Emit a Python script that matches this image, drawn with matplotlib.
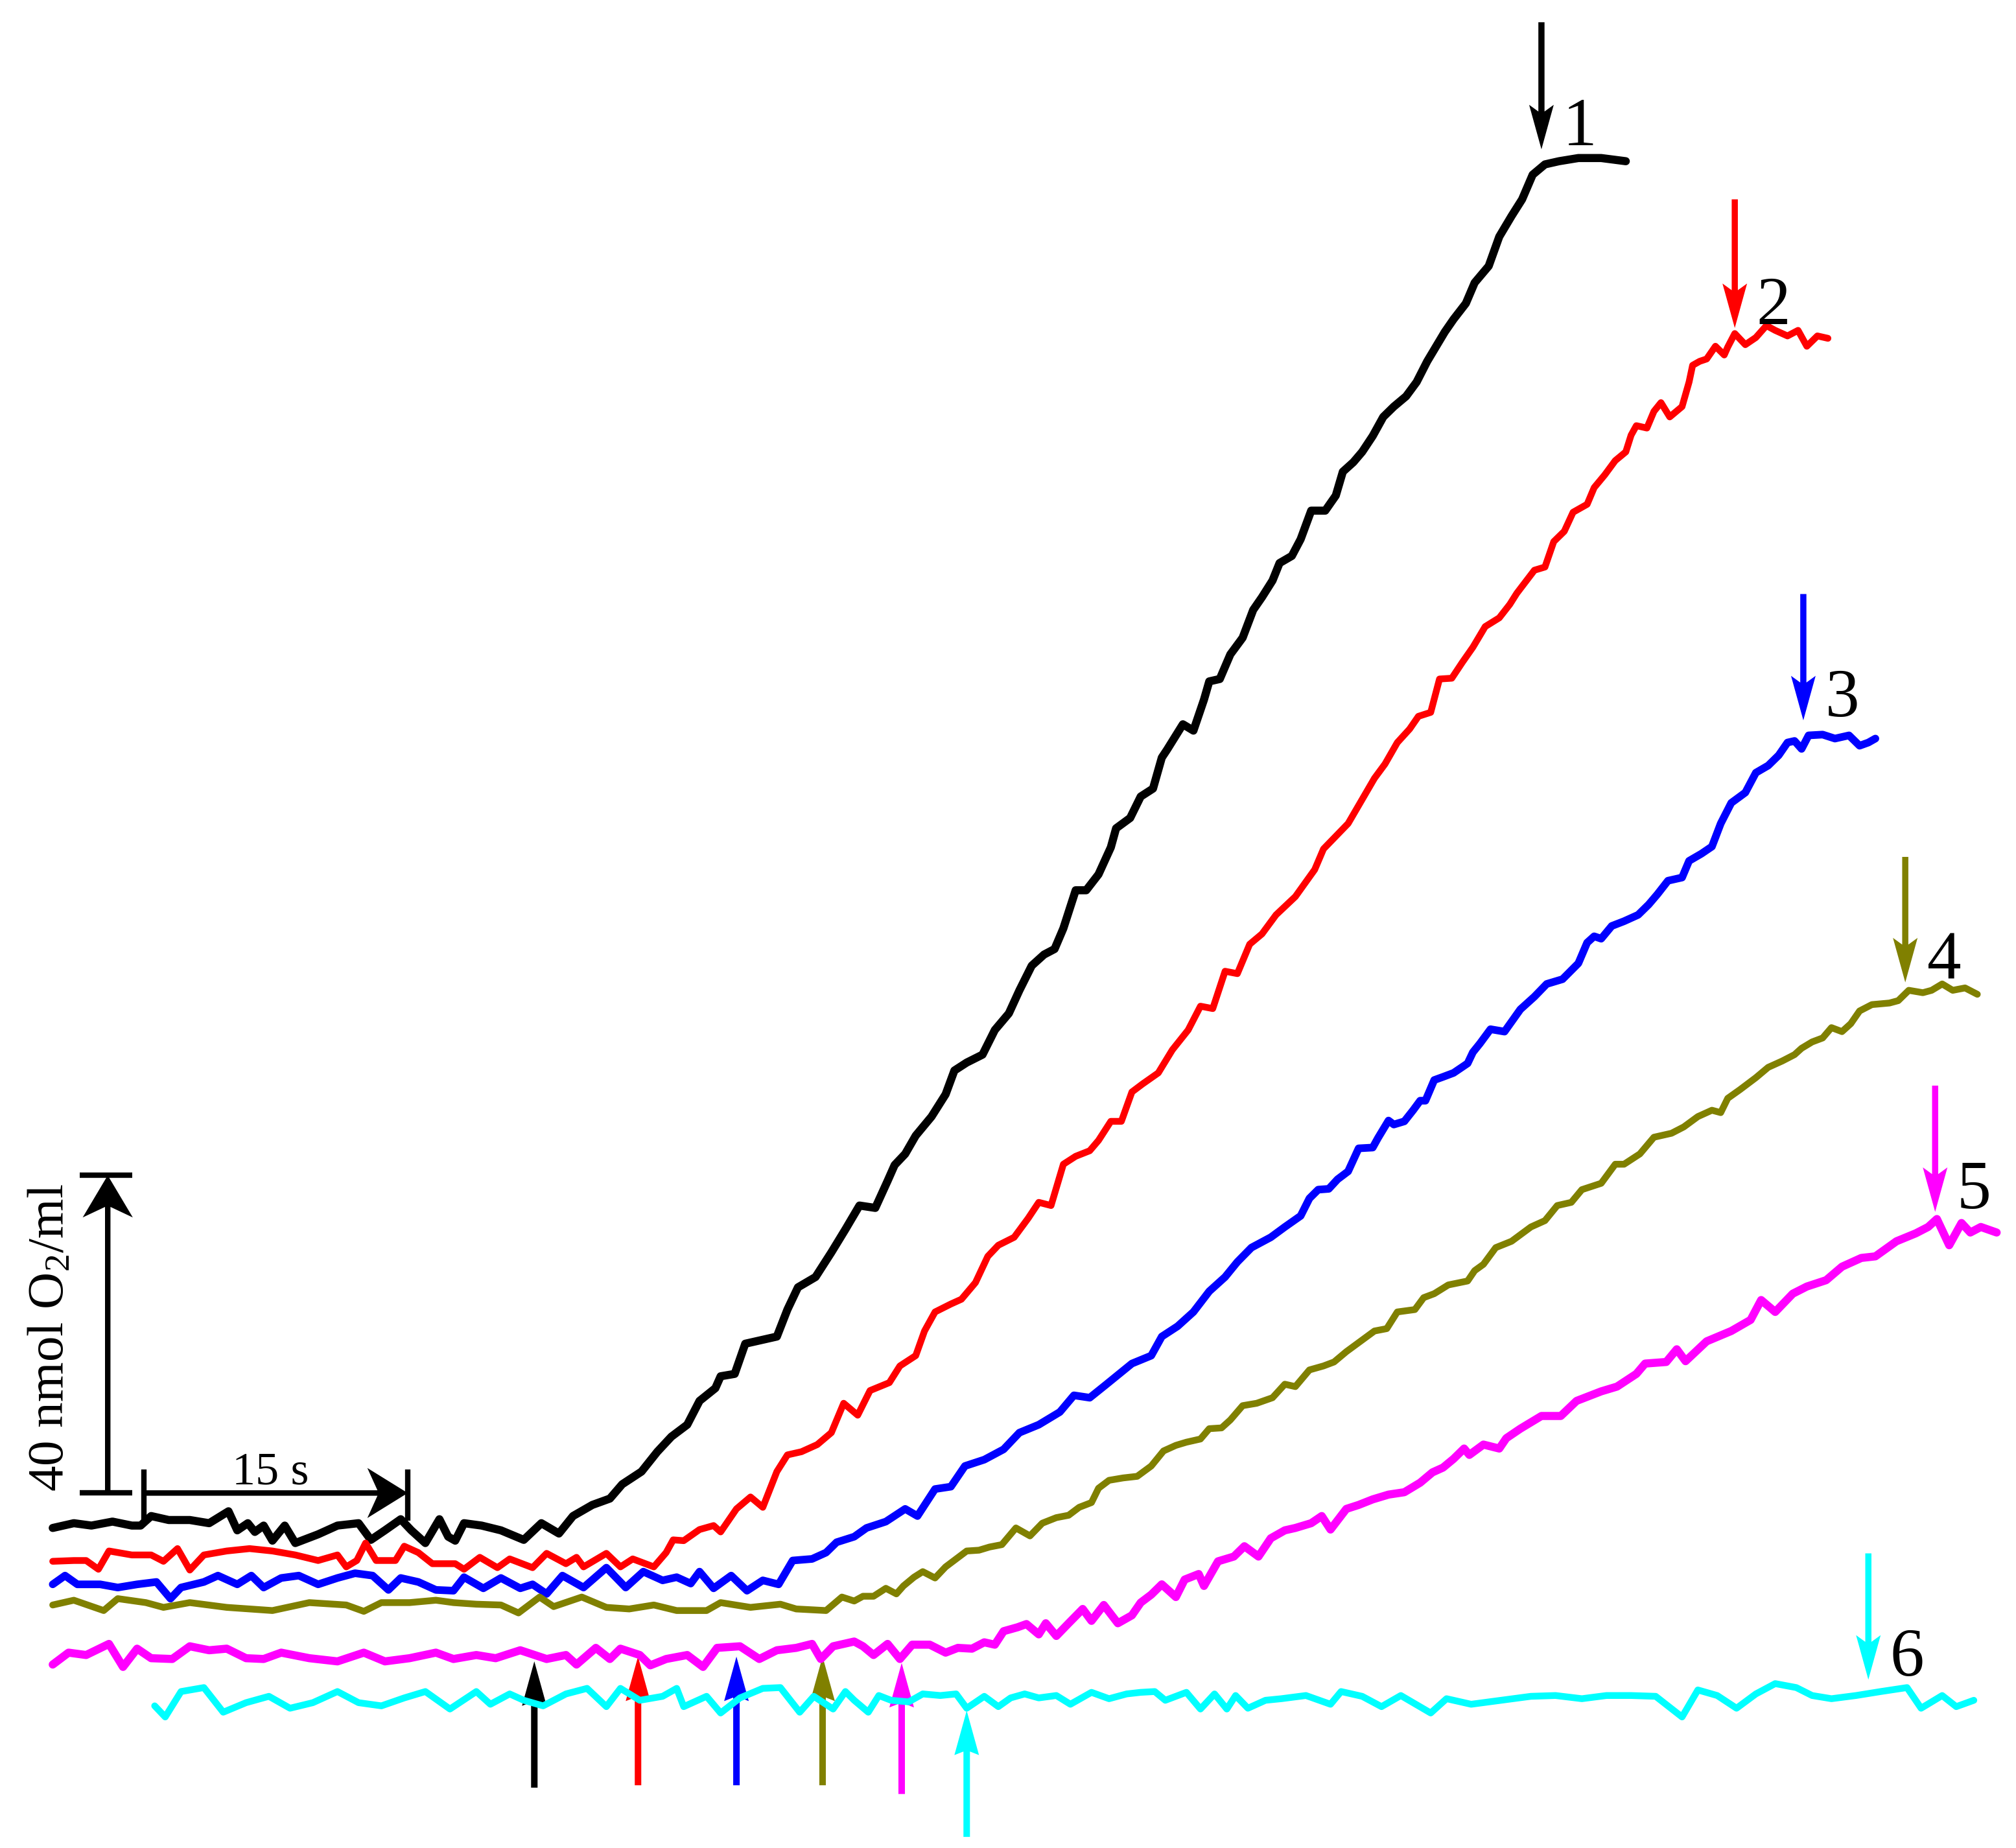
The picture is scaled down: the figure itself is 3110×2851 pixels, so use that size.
import numpy as np
import matplotlib.pyplot as plt

plt.rcParams['font.family'] = ['Liberation Serif', 'DejaVu Serif']
plt.rcParams['mathtext.default'] = 'regular'

trace_1 = [
    (0.0, 23.0), (1.2, 23.6), (2.2, 23.3), (3.4, 23.8), (4.5, 23.3), (5.0, 23.3), (5.6, 24.5), (6.6, 24.0),
    (7.8, 24.0), (8.9, 23.6), (10.0, 25.1), (10.5, 22.7), (11.1, 23.6), (11.5, 22.5), (12.0, 23.3), (12.5, 21.4),
    (13.2, 23.3), (13.8, 21.1), (15.1, 22.2), (16.2, 23.3), (17.4, 23.6), (18.1, 21.5), (18.9, 22.7), (19.8, 24.1),
    (20.4, 22.7), (21.2, 21.1), (22.0, 24.1), (22.5, 21.9), (22.9, 21.4), (23.4, 23.6), (24.4, 23.3), (25.5, 22.7),
    (26.8, 21.5), (27.8, 23.6), (28.8, 22.3), (29.6, 24.5), (30.7, 25.9), (31.7, 26.7), (32.4, 28.5), (33.5, 30.1),
    (34.4, 32.6), (35.2, 34.5), (36.1, 36.0), (36.8, 39.0), (37.7, 40.6), (38.0, 42.1), (38.8, 42.4), (39.4, 46.2),
    (41.2, 47.1), (41.8, 50.5), (42.4, 53.3), (43.4, 54.6), (44.3, 57.7), (45.1, 60.6), (45.9, 63.6), (46.8, 63.3),
    (47.5, 66.7), (47.9, 68.7), (48.5, 70.1), (49.1, 72.4), (50.0, 74.8), (50.8, 77.6), (51.3, 80.6), (52.0, 81.6),
    (52.9, 82.6), (53.6, 85.7), (54.4, 87.8), (55.0, 90.7), (55.7, 93.8), (56.4, 95.2), (57.0, 95.9), (57.5, 98.5),
    (58.2, 103.3), (58.8, 103.3), (59.5, 105.3), (60.2, 108.7), (60.5, 111.1), (61.3, 112.4), (61.9, 115.1),
    (62.6, 116.1), (63.1, 120.0), (63.4, 121.0), (64.3, 124.2), (64.9, 123.4), (65.5, 127.3), (65.8, 129.6),
    (66.4, 129.9), (67.0, 133.0), (67.7, 135.1), (68.3, 138.6), (68.8, 140.2), (69.4, 142.3), (69.8, 144.5),
    (70.5, 145.4), (71.0, 147.5), (71.6, 151.1), (72.4, 151.1), (73.0, 153.0), (73.4, 156.0), (74.0, 157.2),
    (74.5, 158.5), (75.1, 160.5), (75.7, 162.9), (76.3, 164.2), (77.0, 165.5), (77.6, 167.3), (78.2, 169.9),
    (79.2, 173.6), (79.7, 175.2), (80.4, 177.2), (80.9, 179.8), (81.7, 181.9), (82.3, 185.6), (83.0, 188.2),
    (83.6, 190.3), (84.2, 193.4), (84.9, 194.7), (85.7, 195.1), (86.8, 195.5), (88.1, 195.5), (89.5, 195.1),
]

trace_2 = [
    (0.0, 18.8), (1.2, 18.9), (1.9, 18.9), (2.6, 17.8), (3.2, 20.1), (4.5, 19.6), (5.6, 19.6), (6.3, 18.8),
    (7.1, 20.4), (7.8, 17.7), (8.6, 19.6), (9.9, 20.1), (11.2, 20.4), (12.5, 20.1), (13.8, 19.6), (15.1, 18.9),
    (16.2, 19.6), (16.7, 18.1), (17.3, 18.9), (17.8, 21.1), (18.4, 18.9), (19.5, 18.9), (20.0, 20.7), (20.8, 19.9),
    (21.6, 18.5), (22.9, 18.5), (23.4, 17.8), (24.3, 19.3), (25.3, 18.0), (26.0, 19.1), (27.3, 18.0), (28.1, 19.8),
    (29.2, 18.5), (29.8, 19.3), (30.2, 18.1), (31.5, 19.8), (32.3, 18.1), (33.0, 19.1), (34.2, 18.1), (34.9, 19.9),
    (35.3, 21.5), (35.9, 21.4), (36.8, 22.8), (37.6, 23.3), (38.0, 22.5), (38.9, 25.4), (39.7, 26.9), (40.4, 25.6),
    (41.2, 30.1), (41.8, 32.2), (42.6, 32.6), (43.5, 33.5), (44.3, 35.0), (45.0, 38.7), (45.8, 37.2), (46.5, 40.3),
    (47.6, 41.3), (48.2, 43.4), (49.1, 44.7), (49.6, 47.8), (50.2, 50.2), (51.1, 51.2), (51.7, 51.8), (52.5, 53.9),
    (53.2, 57.2), (53.8, 58.6), (54.7, 59.6), (55.5, 62.0), (56.1, 64.0), (56.8, 63.6), (57.5, 68.8), (58.2, 69.8),
    (59.0, 70.5), (59.5, 71.8), (60.2, 74.2), (60.8, 74.2), (61.4, 77.9), (62.0, 78.9), (62.9, 80.3), (63.7, 83.2),
    (64.6, 85.7), (65.3, 88.7), (66.0, 88.4), (66.7, 93.1), (67.4, 92.8), (68.1, 96.5), (68.8, 97.8), (69.6, 100.2),
    (70.7, 102.5), (71.8, 105.9), (72.3, 108.5), (73.7, 111.7), (75.2, 117.4), (75.8, 119.2), (76.5, 121.9),
    (77.2, 123.6), (77.7, 125.2), (78.4, 125.7), (78.9, 129.9), (79.6, 130.0), (80.2, 132.0), (80.8, 133.9),
    (81.5, 136.5), (82.3, 137.6), (82.9, 139.3), (83.3, 140.7), (84.3, 143.6), (84.9, 144.0), (85.4, 147.2),
    (86.0, 148.5), (86.5, 150.9), (87.3, 151.9), (87.7, 154.0), (88.3, 155.6), (88.9, 157.4), (89.5, 158.5),
    (89.8, 160.6), (90.1, 161.8), (90.7, 161.5), (91.1, 163.6), (91.5, 164.7), (92.0, 162.9), (92.7, 164.2),
    (93.1, 167.3), (93.3, 169.4), (93.7, 169.9), (94.1, 170.2), (94.6, 171.8), (95.1, 170.7), (95.3, 171.7),
    (95.7, 173.4), (96.3, 172.0), (96.9, 172.9), (97.5, 174.4), (98.0, 173.8), (98.7, 173.1), (99.3, 173.8),
    (99.8, 171.8), (100.4, 173.1), (101.0, 172.8),
]

trace_3 = [
    (0.0, 15.9), (0.7, 17.0), (1.4, 15.9), (2.7, 15.9), (3.7, 15.5), (4.8, 15.9), (5.9, 16.2), (6.7, 14.1),
    (7.3, 15.5), (8.6, 16.2), (9.4, 17.0), (10.5, 15.9), (11.3, 17.0), (12.0, 15.5), (13.0, 16.7), (14.0, 17.0),
    (15.1, 15.9), (16.2, 16.7), (17.2, 17.3), (18.2, 17.0), (19.1, 15.2), (19.8, 16.7), (20.8, 16.2), (21.8, 15.2),
    (22.8, 15.1), (23.4, 16.8), (24.5, 15.4), (25.5, 16.7), (26.6, 15.4), (27.3, 15.9), (28.1, 14.7), (29.0, 17.0),
    (30.2, 15.5), (31.5, 18.0), (32.6, 15.5), (33.6, 17.5), (34.7, 16.4), (35.5, 16.8), (36.3, 16.0), (36.8, 17.5),
    (37.6, 15.4), (38.6, 17.0), (39.5, 15.1), (40.4, 16.4), (41.3, 15.9), (42.1, 18.9), (43.2, 19.1), (44.0, 19.9),
    (44.6, 21.2), (45.6, 21.9), (46.3, 23.0), (47.4, 23.8), (48.5, 25.4), (49.2, 24.5), (50.2, 27.9), (51.1, 28.2),
    (51.9, 30.8), (53.0, 31.6), (54.1, 32.9), (55.0, 35.0), (56.1, 36.0), (57.3, 37.6), (58.1, 39.7), (59.0, 39.4),
    (59.9, 41.0), (60.9, 42.8), (61.4, 43.7), (62.5, 44.7), (63.1, 47.1), (64.0, 48.4), (64.9, 50.2), (65.8, 52.8),
    (66.7, 54.6), (67.4, 56.5), (68.2, 58.3), (69.3, 59.6), (70.1, 60.9), (71.0, 62.3), (71.5, 64.5), (72.0, 65.6),
    (72.6, 65.7), (73.1, 66.9), (73.7, 67.9), (74.3, 70.8), (75.1, 70.9), (75.4, 72.1), (76.0, 74.3), (76.3, 73.8),
    (76.9, 74.2), (77.4, 75.6), (77.8, 76.8), (78.1, 76.8), (78.6, 79.4), (79.1, 79.8), (79.7, 80.3), (80.5, 81.5),
    (80.8, 82.9), (81.2, 84.0), (81.8, 85.8), (82.6, 85.5), (83.5, 88.3), (84.3, 89.9), (85.0, 91.5), (85.9, 92.1),
    (86.8, 94.1), (87.3, 96.7), (87.7, 97.5), (88.1, 97.2), (88.7, 98.8), (89.4, 99.4), (90.2, 100.2),
    (90.8, 101.5), (91.3, 102.8), (91.9, 104.5), (92.7, 104.9), (93.1, 107.0), (93.8, 107.9), (94.4, 108.8),
    (94.9, 111.7), (95.5, 114.3), (96.3, 115.6), (96.9, 118.1), (97.6, 119.0), (98.2, 120.3), (98.7, 121.9),
    (99.1, 122.1), (99.5, 121.1), (99.9, 122.8), (100.7, 122.9), (101.4, 122.4), (102.2, 122.8), (102.8, 121.5),
    (103.3, 121.9), (103.7, 122.4),
]

trace_4 = [
    (0.0, 13.3), (1.2, 13.9), (2.9, 12.6), (3.7, 14.1), (5.3, 13.6), (6.3, 13.0), (7.8, 13.6), (9.9, 13.0),
    (12.5, 12.6), (14.6, 13.6), (16.7, 13.3), (17.7, 12.5), (18.7, 13.6), (20.3, 13.6), (21.8, 13.9), (22.8, 13.6),
    (24.1, 13.4), (25.5, 13.3), (26.5, 12.3), (27.7, 14.3), (28.5, 13.1), (30.1, 14.3), (31.5, 13.0), (32.8, 12.8),
    (34.2, 13.3), (35.5, 12.6), (37.2, 12.6), (38.0, 13.6), (39.7, 13.0), (41.4, 13.4), (42.3, 12.8), (44.0, 12.6),
    (44.9, 14.3), (45.6, 13.8), (46.1, 14.4), (46.7, 14.4), (47.4, 15.4), (48.0, 14.7), (48.4, 15.7), (49.0, 16.8),
    (49.5, 17.5), (50.2, 16.7), (50.8, 18.1), (51.4, 19.1), (52.0, 20.1), (52.7, 20.2), (53.3, 20.6), (54.0, 20.9),
    (54.8, 23.0), (55.6, 22.0), (56.3, 23.6), (57.1, 24.3), (57.8, 24.6), (58.4, 25.6), (59.1, 26.2), (59.5, 28.0),
    (60.1, 29.0), (60.9, 29.3), (61.7, 29.5), (62.5, 30.8), (63.2, 32.7), (63.9, 33.4), (64.5, 33.8), (65.3, 34.2),
    (65.8, 35.5), (66.5, 35.6), (67.0, 36.6), (67.7, 38.4), (68.5, 38.7), (69.4, 39.4), (70.1, 41.1), (70.7, 40.8),
    (71.5, 42.9), (72.3, 43.4), (72.9, 43.9), (73.6, 45.2), (74.4, 46.5), (75.2, 47.8), (75.9, 48.1), (76.5, 50.2),
    (77.5, 50.5), (78.0, 52.0), (78.6, 52.5), (79.4, 53.6), (80.5, 54.1), (80.9, 55.4), (81.4, 56.2), (82.1, 58.3),
    (83.0, 59.1), (84.1, 60.9), (84.9, 61.7), (85.6, 63.6), (86.4, 64.0), (87.0, 65.6), (88.1, 66.4), (88.9, 68.8),
    (89.4, 68.8), (90.3, 70.1), (91.1, 72.2), (92.1, 72.7), (92.8, 73.5), (93.6, 74.8), (94.4, 75.6), (94.9, 75.3),
    (95.3, 77.1), (96.0, 78.2), (96.9, 79.7), (97.6, 81.0), (98.4, 81.8), (99.1, 82.6), (99.5, 83.4),
    (100.1, 84.2), (100.7, 84.7), (101.2, 86.0), (101.8, 85.5), (102.3, 86.5), (102.8, 88.1), (103.5, 88.9),
    (104.5, 89.1), (105.0, 89.4), (105.6, 90.7), (106.4, 90.4), (106.9, 90.7), (107.5, 91.5), (108.1, 90.7),
    (108.8, 91.0), (109.5, 90.2),
]

trace_5 = [
    (0.0, 5.8), (0.9, 7.3), (1.9, 7.0), (3.2, 8.4), (4.0, 5.5), (4.8, 7.8), (5.6, 6.6), (6.8, 6.5),
    (7.8, 8.1), (8.9, 7.6), (9.9, 7.8), (11.0, 6.6), (12.0, 6.5), (13.0, 7.3), (14.6, 6.6), (16.2, 6.2),
    (17.7, 7.3), (18.9, 6.2), (20.3, 6.6), (21.8, 7.3), (22.8, 6.5), (24.1, 7.0), (25.2, 6.6), (26.6, 7.6),
    (28.1, 6.5), (29.2, 7.0), (29.8, 5.8), (30.9, 7.9), (31.7, 6.5), (32.3, 7.8), (33.4, 7.0), (34.0, 5.7),
    (34.9, 6.5), (36.1, 7.0), (37.0, 5.5), (37.8, 7.9), (39.1, 8.1), (40.2, 6.5), (41.2, 7.6), (42.3, 7.9),
    (43.2, 8.4), (43.7, 6.5), (44.4, 8.1), (45.6, 8.7), (46.1, 8.1), (46.7, 7.0), (47.5, 8.4), (48.2, 6.5),
    (48.9, 8.3), (49.9, 8.3), (50.8, 7.3), (51.5, 7.9), (52.3, 7.8), (53.0, 8.6), (53.6, 8.3), (54.1, 10.0),
    (54.9, 10.5), (55.4, 10.9), (56.1, 9.6), (56.5, 11.0), (57.1, 9.4), (57.8, 11.0), (58.6, 12.8), (59.1, 11.3),
    (59.8, 13.3), (60.6, 11.0), (61.4, 12.0), (61.9, 13.6), (62.5, 14.6), (63.1, 15.9), (63.9, 14.3), (64.4, 16.5),
    (65.2, 17.2), (65.5, 15.7), (66.3, 18.8), (67.2, 19.4), (67.8, 20.7), (68.6, 19.4), (69.3, 21.7), (70.1, 22.7),
    (70.7, 23.0), (71.6, 23.6), (72.2, 24.5), (72.7, 22.8), (73.6, 25.4), (74.3, 25.9), (75.1, 26.6), (76.0, 27.2),
    (76.9, 27.5), (77.8, 28.7), (78.5, 30.0), (79.1, 30.6), (79.7, 31.7), (80.3, 33.0), (80.6, 32.2), (81.4, 33.5),
    (82.3, 33.0), (82.7, 34.3), (83.5, 35.5), (84.7, 37.1), (85.8, 37.1), (86.7, 39.0), (88.1, 40.2), (89.0, 40.8),
    (90.1, 42.4), (90.6, 43.7), (91.8, 43.9), (92.4, 45.5), (92.9, 44.0), (94.1, 46.5), (95.5, 47.8), (96.6, 49.2),
    (97.2, 51.7), (98.0, 50.2), (99.0, 52.5), (99.8, 53.4), (100.9, 54.2), (101.8, 55.9), (102.9, 57.0),
    (103.7, 57.2), (104.9, 59.1), (106.0, 60.1), (106.7, 60.9), (107.2, 61.9), (107.9, 58.6), (108.6, 61.4),
    (109.1, 60.2), (109.7, 60.9), (110.6, 60.2),
]

trace_6 = [
    (5.8, 0.6), (6.4, -0.8), (7.3, 2.4), (8.6, 2.9), (9.7, -0.2), (11.0, 1.0), (12.3, 1.8), (13.5, 0.3),
    (14.8, 1.0), (16.2, 2.4), (17.4, 1.0), (18.7, 0.6), (20.0, 1.6), (21.2, 2.4), (22.6, 0.2), (24.1, 2.4),
    (24.9, 0.8), (26.0, 2.1), (26.8, 1.3), (27.9, 0.6), (29.2, 2.1), (30.4, 2.8), (31.5, 0.5), (32.3, 2.8),
    (33.4, 1.3), (34.7, 1.8), (35.5, 2.8), (35.9, 0.5), (37.2, 1.8), (38.0, -0.3), (39.1, 1.6), (40.4, 2.8),
    (41.4, 2.9), (42.5, -0.2), (43.3, 1.8), (44.4, 0.2), (45.1, 2.4), (45.6, 1.3), (46.4, -0.2), (47.0, 1.9),
    (47.7, 1.3), (48.7, 1.1), (49.5, 2.1), (50.5, 1.9), (51.4, 2.1), (52.0, 0.3), (53.0, 1.8), (53.8, 0.5),
    (54.5, 1.6), (55.3, 2.1), (56.1, 1.6), (57.1, 1.9), (57.9, 0.8), (59.1, 2.3), (60.1, 1.5), (61.1, 2.1),
    (61.9, 2.3), (62.7, 2.4), (63.3, 1.3), (64.5, 2.3), (65.3, 0.2), (66.1, 2.1), (66.8, 0.2), (67.3, 1.9),
    (68.0, 0.3), (69.0, 1.3), (69.9, 1.5), (71.3, 1.9), (72.7, 0.8), (73.3, 2.4), (74.5, 1.8), (75.6, 0.5),
    (76.7, 1.9), (78.4, -0.3), (79.3, 1.5), (80.7, 0.8), (82.4, 1.3), (84.1, 1.8), (85.5, 1.9), (87.0, 1.5),
    (88.4, 1.9), (89.8, 1.9), (91.2, 1.8), (92.7, -0.8), (93.6, 2.6), (94.7, 1.9), (95.8, 0.3), (96.9, 2.1),
    (98.0, 3.4), (99.2, 2.9), (100.1, 1.9), (101.2, 1.5), (102.6, 1.9), (104.0, 2.4), (105.5, 2.9), (106.3, 0.3),
    (107.5, 1.9), (108.3, 0.5), (109.3, 1.3),
]

traces = [trace_1, trace_2, trace_3, trace_4, trace_5, trace_6]
labels = ['1', '2', '3', '4', '5', '6']
colors = ['#000000', '#ff0000', '#0000ff', '#808000', '#ff00ff', '#00ffff']
widths = [9.0, 7.5, 8.5, 7.5, 9.0, 7.5]

# addition marks (upward arrows): time, tail and tip level
add_time = [27.4, 33.3, 38.9, 43.8, 48.3, 52.0]
add_tail = [-9.7, -9.4, -9.4, -9.4, -10.5, -15.9]
add_tip = [6.2, 6.8, 6.8, 6.8, 6.0, 0.0]

# end marks (downward arrows): time, top and tip level
end_time = [84.7, 95.7, 99.6, 105.4, 107.1, 103.3]
end_top = [212.6, 190.3, 140.6, 107.5, 78.7, 19.8]
end_tip = [196.6, 174.1, 124.7, 91.7, 62.8, 3.9]

# scale bars
bar_o2 = 40     # nmol O2/ml
bar_time = 15   # s
bar_x = 3.13
bar_y = 27.4
bar_t0 = 5.2

fig = plt.figure(figsize=(31.1, 28.51), dpi=100)
ax = fig.add_axes([0, 0, 1, 1])
ax.set_xlim(-3.0, 111.7)
ax.set_ylim(-17.3, 215.4)
ax.axis('off')

for tr, c, lw in zip(traces, colors, widths):
    t, o = np.array(tr).T
    ax.plot(t, o, color=c, lw=lw, solid_joinstyle='round', solid_capstyle='round')

for c, t, y0, y1 in zip(colors, add_time, add_tail, add_tip):
    ax.arrow(t, y0, 0, y1 - y0, width=0.37, head_width=1.4, head_length=5.6,
             length_includes_head=True, overhang=0.08, color=c, lw=0)

for c, lab, t, y0, y1 in zip(colors, labels, end_time, end_top, end_tip):
    ax.arrow(t, y0, 0, y1 - y0, width=0.35, head_width=1.4, head_length=5.6,
             length_includes_head=True, overhang=0.15, color=c, lw=0)
    ax.text(t + 2.2, y1 + 0.5, lab, fontsize=76, ha='center', va='baseline')

# vertical scale bar (40 nmol O2/ml)
ax.arrow(bar_x, bar_y, 0, bar_o2, width=0.31, head_width=2.85, head_length=5.3,
         length_includes_head=True, overhang=0.25, color='k', lw=0)
for yy in (bar_y, bar_y + bar_o2):
    ax.plot([bar_x - 1.6, bar_x + 1.4], [yy, yy], color='k', lw=6, solid_capstyle='butt')
ax.text(-0.1, bar_y + bar_o2 / 2 - 0.4, '40 nmol O$_2$/ml', fontsize=57, rotation=90,
        ha='center', va='center')

# horizontal scale bar (15 s)
ax.arrow(bar_t0, bar_y, bar_time, 0, width=0.69, head_width=6.3, head_length=2.3,
         length_includes_head=True, overhang=0.25, color='k', lw=0)
for tt in (bar_t0, bar_t0 + bar_time):
    ax.plot([tt, tt], [bar_y - 3.5, bar_y + 3.0], color='k', lw=6, solid_capstyle='butt')
ax.text(bar_t0 + bar_time / 2 - 0.3, bar_y + 1.1, '15 s', fontsize=52, ha='center', va='baseline')

fig.savefig('out.png', dpi=100)
